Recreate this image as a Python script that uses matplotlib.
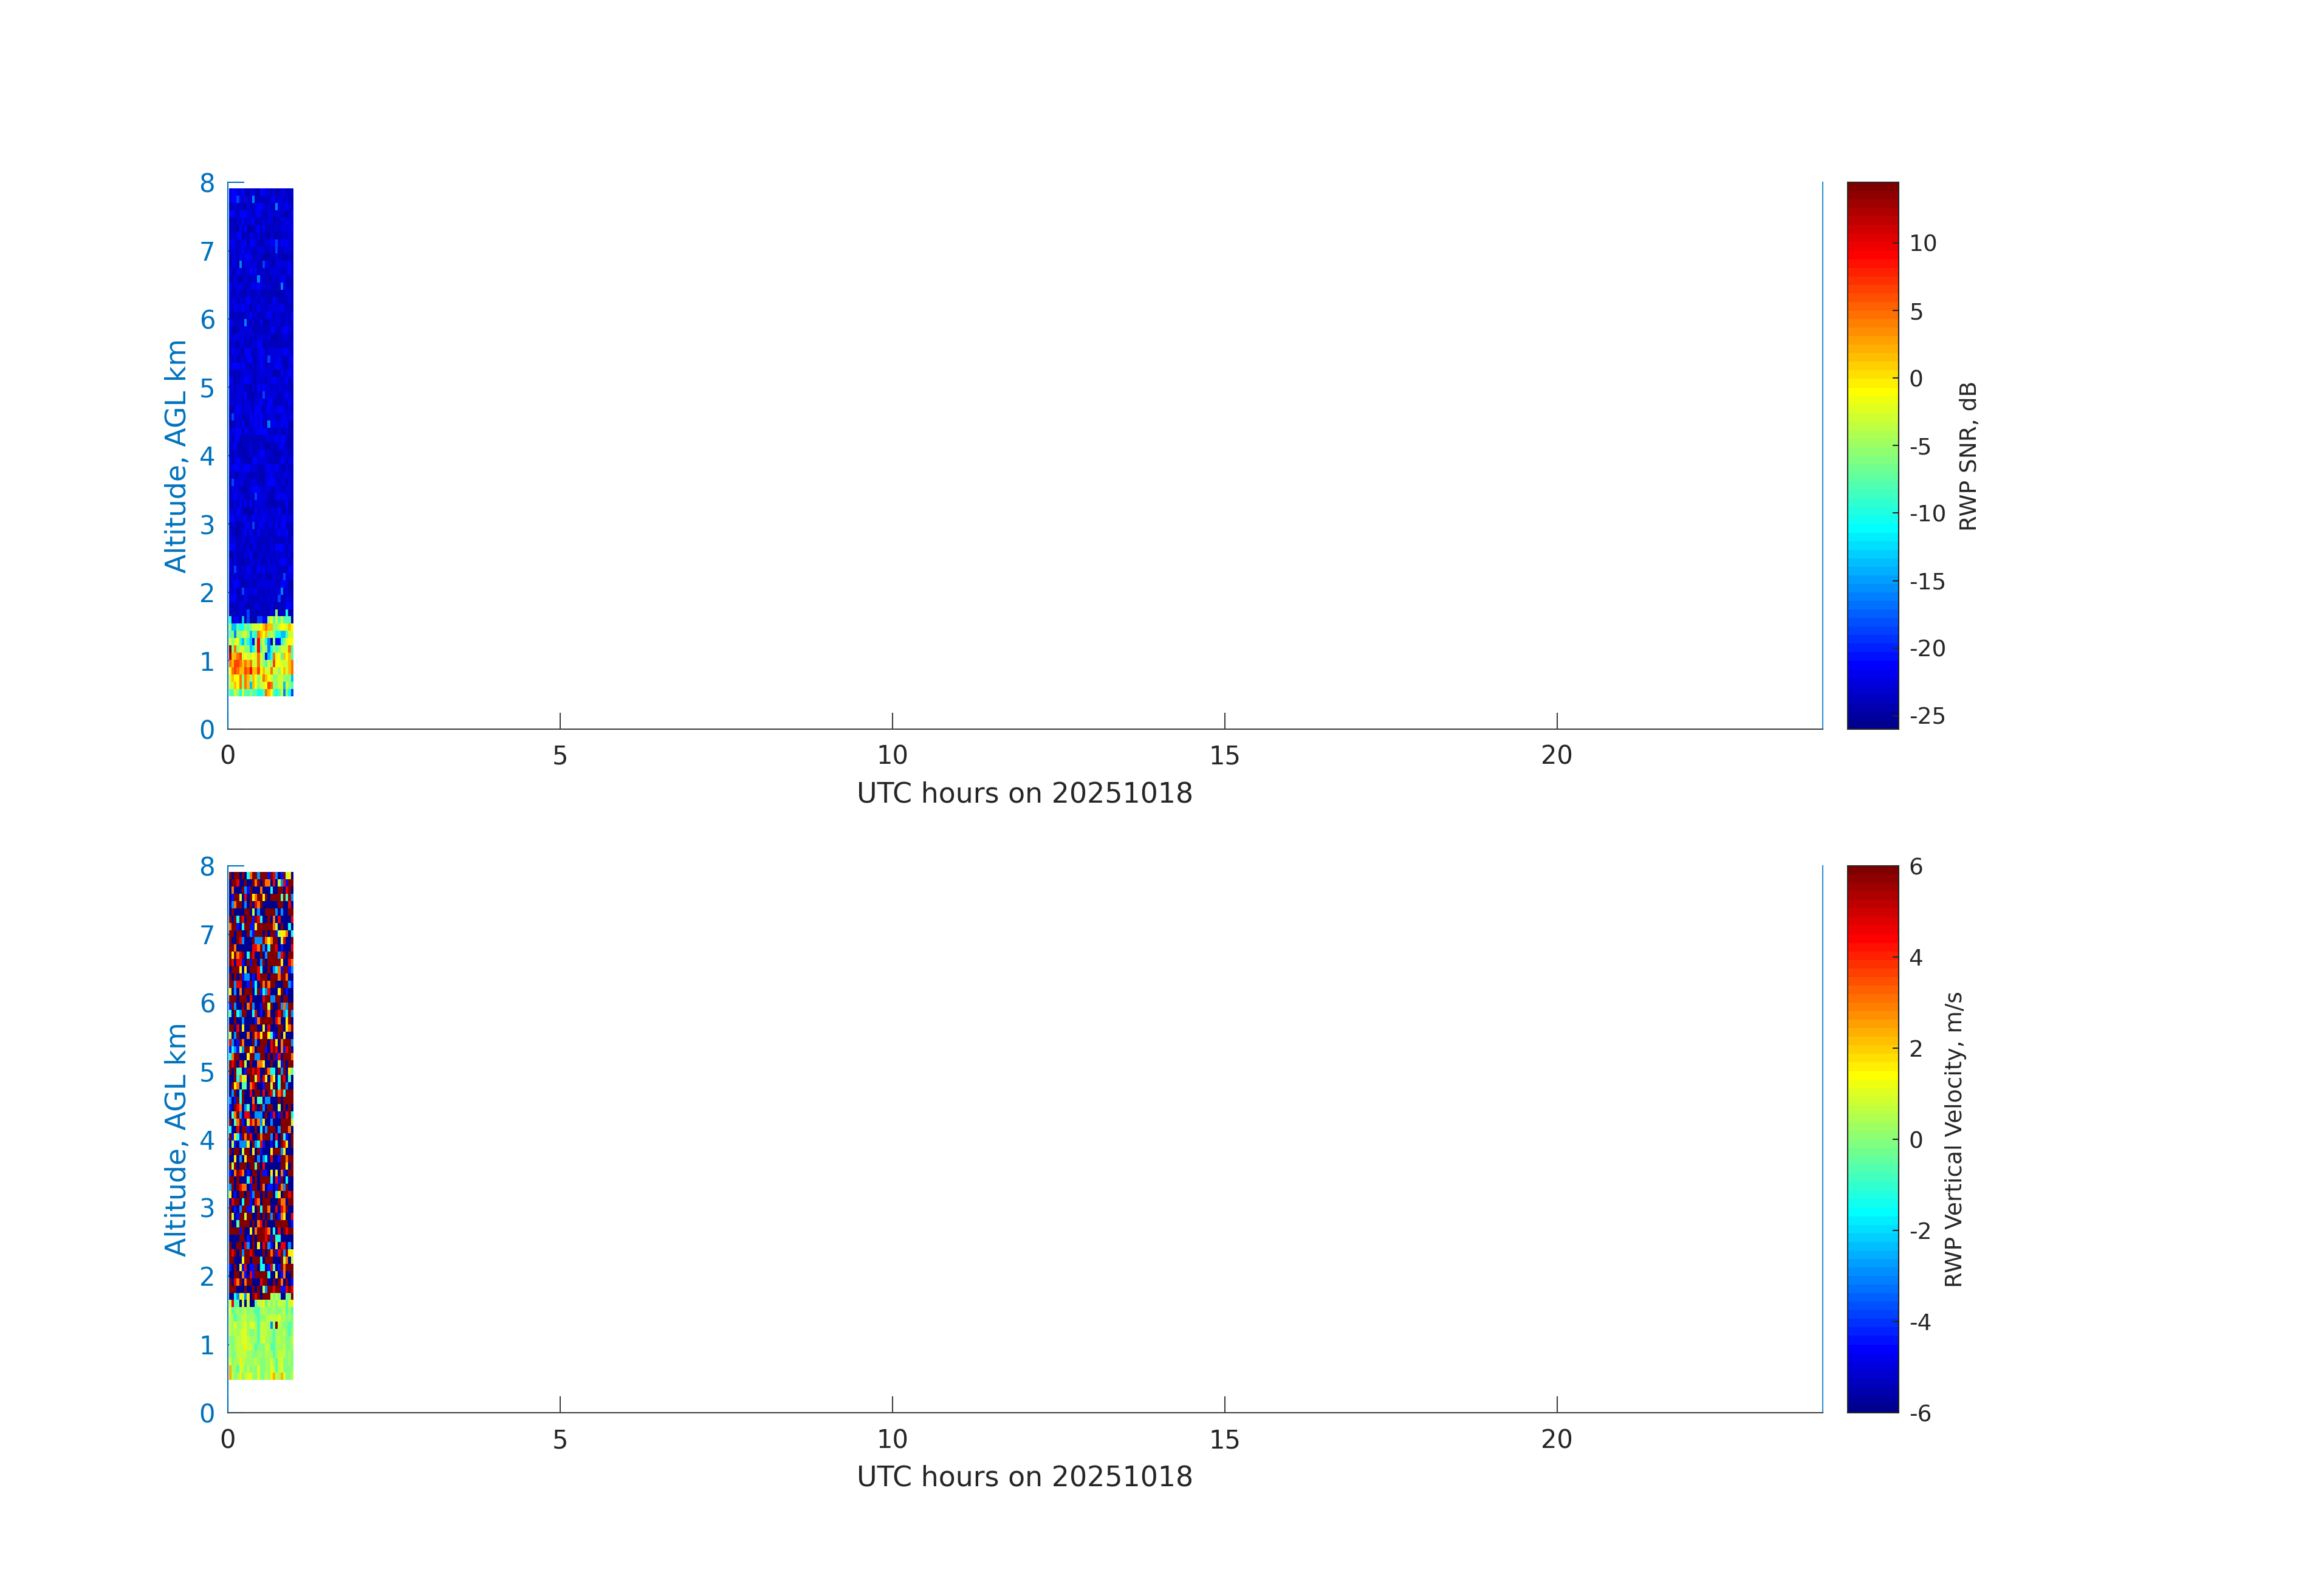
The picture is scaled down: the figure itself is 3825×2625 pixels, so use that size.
import numpy as np
import matplotlib
matplotlib.use("Agg")
import matplotlib.pyplot as plt
from matplotlib.colors import ListedColormap

plt.rcParams['font.family'] = 'DejaVu Sans'
plt.rcParams['axes.unicode_minus'] = False

# one letter per cell, top row first
snr_levels = {'a': -24.4, 'b': -23.5, 'c': -22.6, 'f': -21.3, 'j': -19, 'k': -16, 's': -13.4,
              'w': -10.8, 't': -8.2, 'g': -5.75, 'l': -3.2, 'y': -0.7, 'u': 1.8, 'o': 4.4,
              'p': 6.9, 'r': 9.4, 'e': 11.7, 'd': 14}
snr_rows = [
    "cffcc fbacc baffc cacab ccbbc", "cffjc ccbck bbbbb bcfbc cbcbb", "abcbb bacbb cffcb cbbkc ccfcb",
    "ffcbf ffccb cfcbb ccbcc bbabf", "bbacb fbccf abbcb ccabb ccccc", "bbbaf bfaaa cfbfb bbbcb ccccf",
    "bcbff abbcc bcbbb acbab bcbcc", "cfcbc cfaff cbabc cffjc fcfcb", "bccbc fbccb bcccb bcbjb bcccb",
    "accbf bffcb bcbaa abbcb baabb", "bccak bcccc cbajc cbacc cccfb", "cbafc bbcfc fbbcb bcccc bacfb",
    "bbcba bcbbc bkcbb bacbc cfbbb", "fbccc cbbcf cfccb cbbbb kcbbb", "cbbcb bacbb bcbab bbbaa bbccb",
    "cccbc bcfcb cbccb bbfcb bbbcb", "cbfcc fccac bfbcb ccccc fcbbb", "bbbbb bbcfb cbbbc fcbcc bbcbf",
    "fcbbc bkcac abfaa bcbcc bbcbc", "caabc ccccb bbbbb bffbb cffcb", "cbfcc cbcbc bcccb cbaab bccbb",
    "bcbac cbbbc bffab bbbbb bbbbc", "afccb affcb bcffa ccccc cffcb", "cacbb cbffb bcfcb jcccf bbbcf",
    "cfffc fcbbc acfcb cbcff cabcc", "bbbbb ccccb bcccc ccaaa fbcfc", "fcabc cffcb bcbca ccfcc bcfbc",
    "ccbcc cbbac afcfc cbcbc cbcbb", "cbccc cfbab bcbjc ccccb bcfcb", "ccbcc bccbb ccfcb ffbbb bcbfb",
    "bacfc ccccb ffcac fcccf fcbcb", "bjccc bbbfc fcfcb cccbb cfccc", "abbcb fbbcc fcfbb kcfcc fcfba",
    "cccff afcbc cffff bcbbc abcbb", "cbcfb bbbbb bbbbc cccfc ffbab", "bcfba bbbcb bbcba abbbc fcbab",
    "bbcbb aabcb bcffb cbbab bccbb", "cacfc bbbaf fcccc bbbbb fcbcc", "ccffc cffcc cbbbc fccfc bacbb",
    "bcabc ccbbb bbaac cfcbc bcccb", "bjccc cabcc cbbac fffcb ccacb", "bcccb abbcf ffcbc cbbcc bbccb",
    "bcfcc cbbcb jcccc babcf cfccb", "bbcbf bfbfb ccccb baabb bbfab", "ccbfc baaaa fbccc bccbf bacbb",
    "ffccc cfbbf cccfc ccbcc cfccc", "bbcab bcfbj bcfcb ccbfb ffbbb", "cbaab cfbfb bfbbc bbbcf ccfba",
    "cccbb cbbcc cbbbb bcbbb bbcbc", "ffcbc bbcac cbbcb bcbff fcbcc", "aacbb bccfb abcbc bcbcb ccbca",
    "cbcbb abbcc bcbbb cbcbc ffcbc", "cbjcb cbfcb bfcfb ccccb bbbff", "bcbcb bcccb cbbcb abcbb cjccc",
    "bcffb abbcb acccc cccbb ffcaa", "cbfab jcccc fbbbc bcbcc kbcba", "cffbb bfbbb bbcbb cbcbj bbccb",
    "bbbbc cbabb ccbbb bcbab bbffc", "bbbbc bcjbb bbbbb bcbgb bbwaa", "waffa sajaa ajjff gytlt lttta",
    "gsstw wgtgl llyuo uuggl yyluy", "tgkgg llgst wouyu glgww sstll", "lglyw sgwsf grglw kagff wglyy",
    "dgogl lggsw grtlg kwgtg lllot", "euuop lylly lolgf swoly tuyut", "ouppo uouol lolgt lgpyy llluo",
    "yopou uporu upyul lollg yuluo", "luyyo gougu yglou ylggl lgggs", "lluyo gousu yglly poggl lslgt",
    "ttlgw lttgt twwto uytwt lkgwj",
]

vel_levels = {'n': -6, 'b': -4.5, 's': -3, 'c': -1.5, 't': -0.7, 'g': -0.1, 'h': 0.3, 'l': 0.7,
              'm': 1.1, 'y': 1.6, 'u': 2.3, 'o': 3, 'r': 4.5, 'd': 6}
vel_rows = [
    "dnddn dncod dsddd bdrsn bdlyn", "nddrn ndnnd odndo onrnl srbdd", "nonnn dsbdn nnonn ncnnd dnrdn",
    "nbddl nrndy oddyd ndddd tdtds", "nsodd nsndn rodnn nnnnd dnnrn", "ndnnn nddnl nsnnd dddsn snndd",
    "dndcd rnddb drcnn dnonr nnnnr", "oddbn cddbb ydddd ddoln dnncn", "ddndd nndsb dddnd nddbl yyonc",
    "dnndr snnnd sssdo yoddn lrnnd", "ddonn nnnnr rodsn cddrn bnnnr", "dydor dncdr nndns dddds rdndd",
    "drnrr bndbd dnsdn ddddd ynnro", "ndddy nyndd drcnn dnsco bddbs", "dndnd bssnb nrddd ndddo ddonn",
    "ddsrr nnbdb cndod oddnn nddsb", "ynsno ndddn cdbcs rnnny dnbnn", "dddnd ddnrn nnnrd dssdd nddnn",
    "bdsnn dnods nnbdd ldnnd sosdd", "tndcs ddnnc rnbnd onndr dscds", "nndnn snnnn boddd ddnro nnydn",
    "ddnrn ynndd dnnyn rnnnd dnyod", "lnsdn nnond orydd ycbnd nynnn", "rsnbd onnnd snddd nrdyn oddds",
    "bcsbl sddyo ndddb nrdrn obrdn", "coddn nnydd ssddn dndbr ndddo", "drdnr dlndn nooyn ndnnl bdndd",
    "dndtt nbddr drnnd occnd sdnyt", "nndco lyndd lrnry noync drntn", "ndyon ttnor dnnbd dldnc ddsnn",
    "nsdnc dnnrn ddnrn drcdo rcddd", "snbdc dnnno nttns snnnd ndddd", "bndro nstnr dndsn ddnnl ndndn",
    "ntods nrrnn sssnd nbrnb dnrdc", "dntod bnlro dosyn nsnnn ddddl", "cnnrn ddbnn dncns dddns dddon",
    "dbycb dodrn ndodd dsnrn dcbnd", "nlbns ssynd scrbn nbncn drynd", "dnddn lddny ndbnn nyddd synnn",
    "nnyns nyddd nsnsc nrnnb ddodd", "dldnd ddndd tdnrn nnnnn ddynd", "bnodr onbnd dndbb nynyn obndd",
    "ddndn nncrn dnddd dcnrb dncnn", "sdndr oonbd dndon bbnbd osdnn", "ynbnd dndbs ddndn ddncy nddrd",
    "nrddn cddbn rondd dnnnd oondd", "dnbns ddbbl ndcdd onnrn rodnn", "dlnbd dlddn ndndn dsdnb oynnr",
    "dnntd dddnd nornd nnndd dddnb", "ddddb dnnyn odddr oncnr ndrdd", "nnnnd dnbnd ndddr dbdcc nnnnn",
    "dnndd nrsnd nynrd sbnyn rrnsn", "drdnd sddrd nnndn dodbr dsdyy", "ddnnn yddnd ddcnd ddnnn dlonl",
    "bndny brnbb dnccn brtnb doddd", "nnddn obnrb ddddd cnnyn bonnd", "dnrod noddn nnrdd nndnd ondnb",
    "dddnn ndnnd ndnls ddrdd bbrdr", "nncsy lsynd rdndd dlglg nnggd", "lrttn lnlnn tllyt lglgl lltly",
    "mtghg hlghg tthlh ghhgg hltht", "lhtgh llhhh gtghh llllm hlghg", "lhmhh lmhmm htlll hshdl hggtg",
    "lhlhl mmhgg ltlll hhthh hlgth", "gghll mmlhh htlmh hgthl hhggl", "hghll lyllh tgggl ltthh hlggh",
    "hggll llhhg ghhgl hhthl llghg", "mghhy lhhhh lhggh hmhtl mgghg", "uhhtm lglgh gmggh hmltl mgggh",
    "ulghy glmmh gmggl hyulh umggl",
]

hour_range = [0.016, 0.987]
alt_range = [0.482, 7.911]
date_label = "20251018"
snr_ticks = [-25, -20, -15, -10, -5, 0, 5, 10]
vel_ticks = [-6, -4, -2, 0, 2, 4, 6]

FIG_W, FIG_H = 3825, 2625
BLUE = '#0072bd'
DARK = '#262626'


def matlab_jet():
    # same steps as jet(64) in matlab, matplotlib's own jet is a bit off
    i = np.arange(1, 65)
    r = np.minimum((i - 24) / 16, (72 - i) / 16)
    g = np.minimum((i - 8) / 16, (56 - i) / 16)
    b = np.minimum((i + 8) / 16, (40 - i) / 16)
    return ListedColormap(np.clip(np.column_stack([r, g, b]), 0, 1))


def decode(rows, levels):
    # bottom row of the picture goes first for pcolormesh
    grid = [[levels[ch] for ch in row.replace(" ", "")] for row in rows]
    return np.array(grid[::-1], dtype=float)


def panel(fig, top_px, rows, levels, clim, ticks, cbar_label):
    ax = fig.add_axes([375 / FIG_W, 1 - (top_px + 900) / FIG_H, 2625 / FIG_W, 900 / FIG_H])
    cax = fig.add_axes([3041 / FIG_W, 1 - (top_px + 900) / FIG_H, 84 / FIG_W, 900 / FIG_H])

    data = decode(rows, levels)
    x = np.linspace(hour_range[0], hour_range[1], data.shape[1] + 1)
    y = np.linspace(alt_range[0], alt_range[1], data.shape[0] + 1)
    mesh = ax.pcolormesh(x, y, data, cmap=matlab_jet(), vmin=clim[0], vmax=clim[1],
                         antialiased=False, zorder=1)

    ax.set_xlim(0, 24)
    ax.set_ylim(0, 8)
    ax.set_xticks([0, 5, 10, 15, 20])
    ax.set_yticks(range(9))
    ax.set_axisbelow(True)
    ax.spines['top'].set_visible(False)
    ax.spines['left'].set_color(BLUE)
    ax.spines['right'].set_color('#2f8fd0')
    ax.spines['bottom'].set_color('#404040')
    for side in ['left', 'right', 'bottom']:
        ax.spines[side].set_linewidth(0.5)
    ax.tick_params(axis='x', direction='in', length=6.5, width=0.5, color='#404040',
                   labelcolor=DARK, labelsize=10, pad=6)
    ax.tick_params(axis='y', direction='in', length=6.5, width=0.5, color=BLUE,
                   labelcolor=BLUE, labelsize=10, pad=5)
    ax.set_xlabel("UTC hours on " + date_label, fontsize=11, color=DARK, labelpad=4.5)
    ax.set_ylabel("Altitude, AGL km", fontsize=11, color=BLUE, labelpad=2.8)

    cb = fig.colorbar(mesh, cax=cax, ticks=ticks)
    cb.outline.set_linewidth(0.5)
    cb.outline.set_edgecolor(DARK)
    cb.ax.tick_params(direction='in', length=2.4, width=0.5, color=DARK, labelcolor=DARK,
                      labelsize=9, pad=4)
    cb.set_label(cbar_label, fontsize=9, color=DARK, labelpad=5.2)
    return ax


fig = plt.figure(figsize=(12.75, 8.75), dpi=300)
panel(fig, 300, snr_rows, snr_levels, (-26, 14.5), snr_ticks, "RWP SNR, dB")
panel(fig, 1425, vel_rows, vel_levels, (-6, 6), vel_ticks, "RWP Vertical Velocity, m/s")
fig.savefig("out.png", dpi=300)
